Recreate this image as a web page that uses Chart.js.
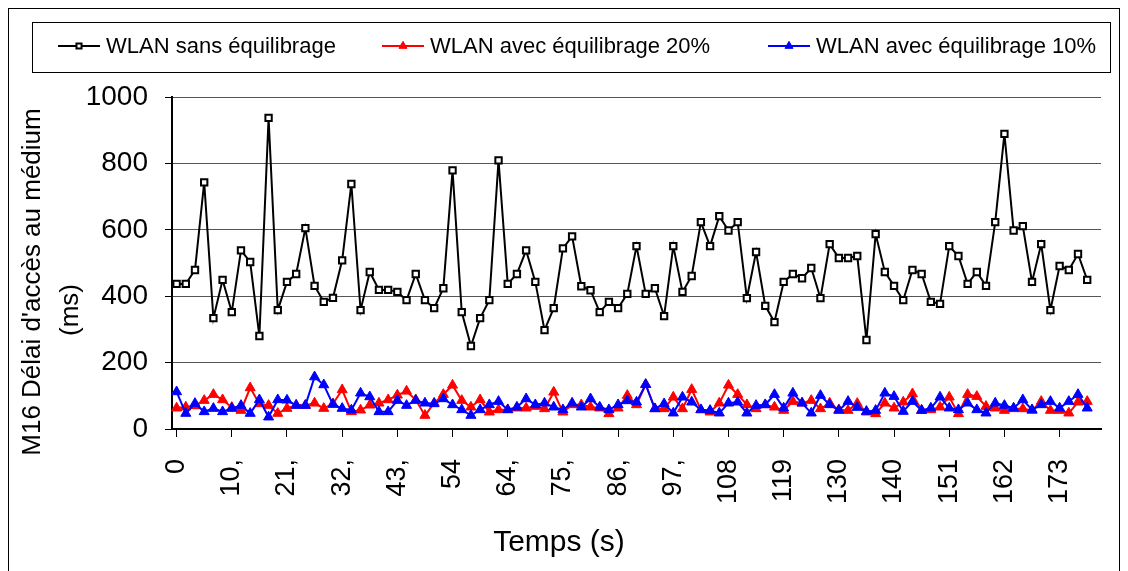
<!DOCTYPE html>
<html>
<head>
<meta charset="utf-8">
<script src="https://cdn.jsdelivr.net/npm/chart.js@4/dist/chart.umd.min.js"></script>
<style>
  html, body { margin: 0; padding: 0; background: #fff; overflow: hidden; }
  #wrap { position: relative; width: 1128px; height: 571px; }
</style>
</head>
<body>
<div id="wrap"><canvas id="chart" width="1128" height="571"></canvas></div>
<script>
// x tick labels, one every 6 samples
const tickLabels = ['0', '10,', '21,', '32,', '43,', '54', '64,', '75,', '86,', '97,', '108', '119', '130', '140', '151', '162', '173'];

// delay (ms) per sample
const sansEquilibrage = [
  437, 437, 479, 743, 334, 449, 352, 538, 503, 280,
  937, 358, 443, 467, 605, 431, 383, 395, 508, 738,
  358, 473, 419, 419, 413, 388, 467, 388, 364, 424,
  779, 352, 250, 334, 388, 809, 437, 467, 538, 443,
  298, 364, 544, 580, 430, 418, 352, 383, 364, 407,
  551, 407, 424, 340, 551, 413, 461, 623, 551, 641,
  598, 623, 394, 533, 371, 322, 443, 467, 454, 485,
  394, 557, 515, 515, 521, 268, 587, 473, 431, 388,
  479, 467, 383, 377, 551, 521, 437, 473, 431, 623,
  889, 598, 611, 443, 557, 358, 491, 479, 527, 449
];
const equilibrage20 = [
  63, 66, 70, 86, 104, 88, 65, 56, 124, 76,
  71, 47, 62, 72, 71, 78, 62, 76, 118, 52,
  57, 72, 78, 88, 102, 114, 88, 41, 78, 104,
  132, 86, 66, 88, 51, 58, 58, 63, 63, 68,
  61, 111, 51, 73, 73, 66, 63, 46, 63, 101,
  73, 134, 61, 61, 96, 61, 119, 58, 51, 78,
  132, 104, 73, 61, 73, 66, 56, 83, 78, 86,
  61, 78, 58, 56, 77, 51, 46, 78, 63, 81,
  106, 56, 58, 66, 96, 46, 104, 98, 68, 63,
  56, 61, 61, 56, 83, 56, 56, 48, 81, 83
];
const equilibrage10 = [
  112, 47, 77, 52, 62, 52, 62, 71, 47, 88,
  36, 88, 87, 71, 71, 157, 133, 74, 62, 57,
  108, 97, 52, 52, 86, 71, 86, 78, 76, 91,
  73, 58, 41, 58, 73, 83, 58, 66, 91, 73,
  78, 66, 58, 78, 66, 91, 66, 58, 73, 85,
  81, 134, 61, 76, 48, 96, 81, 58, 56, 48,
  78, 81, 48, 71, 73, 104, 63, 108, 78, 48,
  101, 73, 56, 83, 65, 53, 56, 108, 98, 53,
  83, 56, 63, 96, 63, 58, 78, 58, 48, 78,
  71, 63, 88, 58, 73, 83, 63, 83, 104, 63
];

const FONT = "'Liberation Sans', Arial, sans-serif";

// 101 category slots (last one empty), labelled every 6th slot
const labels = Array.from({ length: 101 }, (_, i) =>
  (i % 6 === 0 && tickLabels[i / 6] !== undefined) ? tickLabels[i / 6] : '');

// frame, legend box and axis titles
const decorations = {
  id: 'decorations',
  afterDraw(chart) {
    const ctx = chart.ctx;
    ctx.save();
    ctx.strokeStyle = '#000';
    ctx.lineWidth = 1;
    ctx.strokeRect(8.5, 8.5, 1111, 700);
    ctx.strokeRect(32.5, 22.5, 1078, 50);

    const legendX = [58, 382, 768];
    const ly = 46;
    chart.data.datasets.forEach((ds, i) => {
      const x0 = legendX[i];
      ctx.strokeStyle = ds.borderColor;
      ctx.lineWidth = 2;
      ctx.beginPath();
      ctx.moveTo(x0, ly);
      ctx.lineTo(x0 + 42, ly);
      ctx.stroke();
      ctx.fillStyle = ds.pointBackgroundColor;
      ctx.strokeStyle = ds.pointBorderColor;
      ctx.lineWidth = ds.pointBorderWidth;
      Chart.helpers.drawPoint(ctx, {
        pointStyle: ds.pointStyle, radius: ds.pointRadius * 0.8,
        rotation: 0, borderWidth: ds.pointBorderWidth
      }, x0 + 21, ly);
      ctx.fillStyle = '#000';
      ctx.font = '22px ' + FONT;
      ctx.textBaseline = 'middle';
      ctx.textAlign = 'left';
      ctx.fillText(ds.label, x0 + 48, ly + 1);
    });

    ctx.fillStyle = '#000';
    ctx.font = '26px ' + FONT;
    ctx.textAlign = 'center';
    ctx.textBaseline = 'middle';
    ctx.save();
    ctx.translate(33, 282);
    ctx.rotate(-Math.PI / 2);
    ctx.fillText("M16 Délai d'accès au médium", 0, 0);
    ctx.restore();
    ctx.save();
    ctx.translate(71, 310);
    ctx.rotate(-Math.PI / 2);
    ctx.fillText('(ms)', 0, 0);
    ctx.restore();

    ctx.font = '30px ' + FONT;
    ctx.fillText('Temps (s)', 559, 543);
    ctx.restore();
  }
};

new Chart(document.getElementById('chart'), {
  type: 'line',
  data: {
    labels: labels,
    datasets: [
      {
        label: 'WLAN sans équilibrage', data: sansEquilibrage, order: 0,
        borderColor: '#000', borderWidth: 2,
        pointStyle: 'rect', pointRadius: 4.5, pointBorderWidth: 2,
        pointBackgroundColor: '#fff', pointBorderColor: '#000'
      },
      {
        label: 'WLAN avec équilibrage 20%', data: equilibrage20, order: 2,
        borderColor: '#ff0000', borderWidth: 2,
        pointStyle: 'triangle', pointRadius: 5.8, pointBorderWidth: 1,
        pointBackgroundColor: '#ff0000', pointBorderColor: '#ff0000'
      },
      {
        label: 'WLAN avec équilibrage 10%', data: equilibrage10, order: 1,
        borderColor: '#0000ff', borderWidth: 2,
        pointStyle: 'triangle', pointRadius: 5.8, pointBorderWidth: 1,
        pointBackgroundColor: '#0000ff', pointBorderColor: '#0000ff'
      }
    ]
  },
  options: {
    responsive: false,
    animation: false,
    layout: { padding: { left: 0, right: 27, top: 97, bottom: 0 } },
    plugins: { legend: { display: false }, tooltip: { enabled: false } },
    elements: { line: { tension: 0 } },
    scales: {
      x: {
        type: 'category',
        offset: true,
        afterFit: s => { s.height = 142; },
        border: { color: '#000', width: 2 },
        grid: { drawOnChartArea: false, drawTicks: true, tickLength: 8, tickColor: '#000', offset: false },
        ticks: {
          autoSkip: false, maxRotation: 90, minRotation: 90, padding: 22,
          color: '#000', font: { family: FONT, size: 27 },
          callback: (v, i) => labels[i] === '' ? null : labels[i]
        }
      },
      y: {
        min: 0, max: 1000,
        afterFit: s => { s.width = 172; },
        border: { color: '#000', width: 2 },
        grid: { color: '#555', lineWidth: 1, tickLength: 7, tickColor: '#000' },
        ticks: {
          stepSize: 200, padding: 17, color: '#000', font: { family: FONT, size: 28 },
          callback: v => String(v)
        }
      }
    }
  },
  plugins: [decorations]
});
</script>
</body>
</html>
